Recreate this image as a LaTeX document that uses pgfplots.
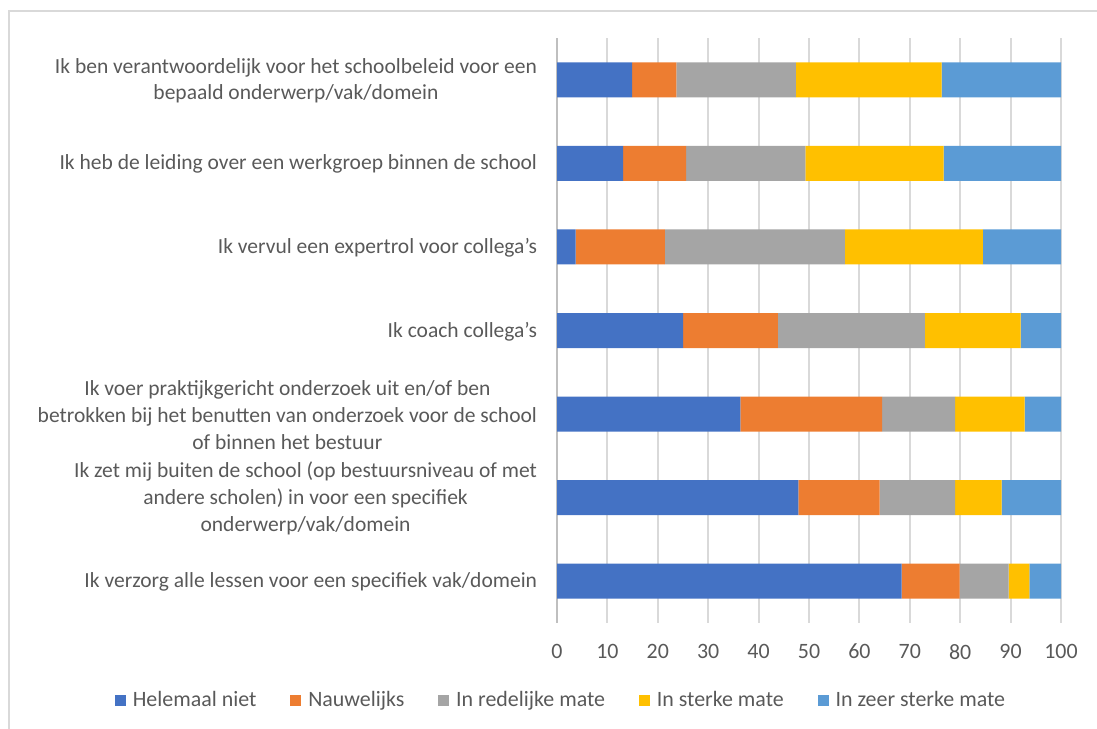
\documentclass[border=0pt]{standalone}
\usepackage{fontspec}
\setmainfont{Carlito}
\usepackage{pgfplots}
\usepackage{pgfplotstable}
\pgfplotsset{compat=1.18}

\definecolor{c1}{HTML}{4472C4}
\definecolor{c2}{HTML}{ED7D31}
\definecolor{c3}{HTML}{A5A5A5}
\definecolor{c4}{HTML}{FFC000}
\definecolor{c5}{HTML}{5B9BD5}
\definecolor{txt}{HTML}{595959}
\definecolor{gridc}{HTML}{D9D9D9}
\definecolor{axisc}{HTML}{BFBFBF}

% row, Helemaal niet, Nauwelijks, In redelijke mate, In sterke mate, In zeer sterke mate
\pgfplotstableread{
row a b c d e
0 14.9 8.8 23.7 28.9 23.7
1 13.1 12.5 23.7 27.4 23.3
2 3.7 17.7 35.7 27.4 15.5
3 25.0 18.8 29.2 19.0 8.0
4 36.4 28.1 14.5 13.8 7.2
5 47.9 16.1 15.0 9.2 11.8
6 68.4 11.5 9.7 4.1 6.3
}\datatable

\begin{document}
\begin{tikzpicture}
\useasboundingbox (0,0) rectangle (548.5bp,364.5bp);
\draw[gridc, line width=1bp] (4.5bp,-2bp) -- (4.5bp,359bp) -- (550bp,359bp);
\begin{axis}[
  at={(278.5bp,53bp)},
  scale only axis,
  width=252bp,
  height=292.5bp,
  xbar stacked,
  bar width=17.5bp,
  xmin=0, xmax=100,
  ymin=-0.5, ymax=6.5,
  y dir=reverse,
  enlargelimits=false,
  xtick={0,10,...,100},
  ytick={0,...,6},
  yticklabels={
    {Ik ben verantwoordelijk voor het schoolbeleid voor een\\bepaald onderwerp/vak/domein},
    {Ik heb de leiding over een werkgroep binnen de school},
    {Ik vervul een expertrol voor collega’s},
    {Ik coach collega’s},
    {Ik voer praktijkgericht onderzoek uit en/of ben\\betrokken bij het benutten van onderzoek voor de school\\of binnen het bestuur},
    {Ik zet mij buiten de school (op bestuursniveau of met\\andere scholen) in voor een specifiek\\onderwerp/vak/domein},
    {Ik verzorg alle lessen voor een specifiek vak/domein}
  },
  yticklabel style={align=center, anchor=east, xshift=-6.5bp, yshift=-0.5bp, text=txt,
    font=\fontsize{10.8}{13.5}\selectfont},
  xticklabel style={text=txt, font=\fontsize{11}{12}\selectfont,
    /pgf/number format/assume math mode=true, yshift=-7bp},
  major tick length=0pt,
  xmajorgrids,
  major grid style={gridc, line width=1bp},
  axis x line*=bottom,
  axis y line*=left,
  x axis line style={draw=none},
  y axis line style={draw=axisc, line width=1bp, -},
  legend columns=5,
  legend style={at={(0.01,-0.132)}, anchor=center, draw=none, fill=none,
    text=txt, font=\fontsize{11}{12}\selectfont,
    /tikz/every odd column/.append style={column sep=1.5bp},
    /tikz/every even column/.append style={column sep=15bp}},
  legend image code/.code={\fill[#1] (0bp,-2.7bp) rectangle (5.4bp,2.7bp);},
]
\addplot[fill=c1, draw=none] table[x=a, y=row] {\datatable};
\addplot[fill=c2, draw=none] table[x=b, y=row] {\datatable};
\addplot[fill=c3, draw=none] table[x=c, y=row] {\datatable};
\addplot[fill=c4, draw=none] table[x=d, y=row] {\datatable};
\addplot[fill=c5, draw=none] table[x=e, y=row] {\datatable};
\legend{Helemaal niet, Nauwelijks, In redelijke mate, In sterke mate, In zeer sterke mate}
\end{axis}
\end{tikzpicture}
\end{document}
